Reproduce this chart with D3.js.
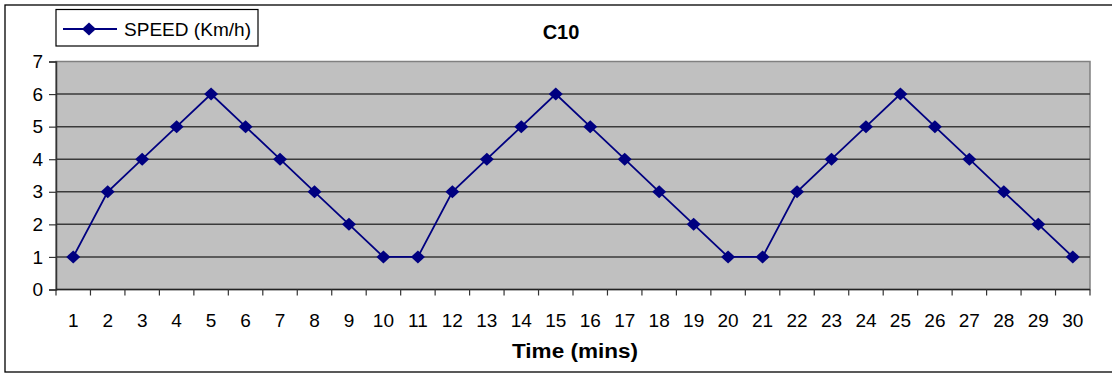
<!DOCTYPE html>
<html>
<head>
<meta charset="utf-8">
<script src="https://cdn.jsdelivr.net/npm/d3@7"></script>
<style>
  html, body { margin: 0; padding: 0; background: #fff; }
  svg { display: block; font-family: Arial, "Liberation Sans", sans-serif; }
</style>
</head>
<body>
<svg id="chart" width="1112" height="374"></svg>
<script>
// Speed readings per minute
const minutes = d3.range(1, 31).map(String);
const speed = [1, 3, 4, 5, 6, 5, 4, 3, 2, 1, 1, 3, 4, 5, 6, 5, 4, 3, 2, 1, 1, 3, 4, 5, 6, 5, 4, 3, 2, 1];
const yTicks = [0, 1, 2, 3, 4, 5, 6, 7];
const chartTitle = "C10";
const xTitle = "Time (mins)";
const seriesName = "SPEED (Km/h)";

const svg = d3.select("#chart");
const plot = { left: 56, right: 1090, top: 61.5, bottom: 289.5 };

// outer chart frame
svg.append("rect")
  .attr("x", 5).attr("y", 5).attr("width", 1115).attr("height", 367)
  .attr("fill", "#fff").attr("stroke", "#000").attr("stroke-width", 1.3);

const x = d3.scaleBand().domain(minutes).range([plot.left, plot.right]);
const y = d3.scaleLinear().domain([0, 7]).range([plot.bottom, plot.top]);

// plot background
svg.append("rect")
  .attr("x", plot.left).attr("y", plot.top)
  .attr("width", plot.right - plot.left).attr("height", plot.bottom - plot.top)
  .attr("fill", "#c0c0c0").attr("stroke", "#808080").attr("stroke-width", 1.5);

// horizontal gridlines
svg.append("g")
  .selectAll("line")
  .data(yTicks.filter(v => v > 0 && v < 7))
  .join("line")
  .attr("x1", plot.left).attr("x2", plot.right)
  .attr("y1", d => y(d)).attr("y2", d => y(d))
  .attr("stroke", "#3a3a3a").attr("stroke-width", 1.5);

// y axis
const yAxis = svg.append("g")
  .attr("transform", `translate(${plot.left},0)`)
  .call(d3.axisLeft(y).tickValues(yTicks).tickFormat(d3.format("d")).tickSize(7).tickPadding(6));
yAxis.select(".domain").attr("stroke", "#333").attr("stroke-width", 1.5);
yAxis.selectAll(".tick line").attr("stroke", "#333").attr("stroke-width", 1.2);
yAxis.selectAll("text").attr("font-size", 19).attr("fill", "#000")
  .attr("font-family", "Arial, 'Liberation Sans', sans-serif");

// x axis with ticks at category boundaries
const xAxisG = svg.append("g").attr("transform", `translate(0,${plot.bottom})`);
xAxisG.append("line")
  .attr("x1", plot.left).attr("x2", plot.right)
  .attr("stroke", "#222").attr("stroke-width", 1.5);
const boundaries = minutes.map(m => x(m)).concat([x(minutes[minutes.length - 1]) + x.bandwidth()]);
xAxisG.selectAll("line.tk")
  .data(boundaries)
  .join("line")
  .attr("class", "tk")
  .attr("x1", d => d).attr("x2", d => d)
  .attr("y1", 0).attr("y2", 6)
  .attr("stroke", "#333").attr("stroke-width", 1.2);
xAxisG.selectAll("text")
  .data(minutes)
  .join("text")
  .attr("x", d => x(d) + x.bandwidth() / 2)
  .attr("y", 37)
  .attr("text-anchor", "middle")
  .attr("font-size", 19)
  .text(d => d);

// series line and markers
const cx = (d, i) => x(minutes[i]) + x.bandwidth() / 2;
const line = d3.line().x(cx).y(d => y(d));
svg.append("path")
  .datum(speed)
  .attr("d", line)
  .attr("fill", "none")
  .attr("stroke", "#000080")
  .attr("stroke-width", 1.8);

const diamond = "M0,-6.5L7,0L0,6.5L-7,0Z";
svg.append("g")
  .selectAll("path")
  .data(speed)
  .join("path")
  .attr("transform", (d, i) => `translate(${cx(d, i)},${y(d)})`)
  .attr("d", diamond)
  .attr("fill", "#000080");

// titles
svg.append("text")
  .attr("x", 561).attr("y", 39)
  .attr("text-anchor", "middle")
  .attr("font-size", 20).attr("font-weight", "bold")
  .text(chartTitle);

svg.append("text")
  .attr("x", 575).attr("y", 357.5)
  .attr("text-anchor", "middle")
  .attr("font-size", 20).attr("font-weight", "bold")
  .attr("textLength", 126)
  .attr("lengthAdjust", "spacingAndGlyphs")
  .text(xTitle);

// legend
const legend = svg.append("g");
legend.append("rect")
  .attr("x", 56).attr("y", 9.5).attr("width", 202).attr("height", 36.5)
  .attr("fill", "#fff").attr("stroke", "#000").attr("stroke-width", 1.2);
legend.append("line")
  .attr("x1", 63).attr("x2", 117).attr("y1", 29).attr("y2", 29)
  .attr("stroke", "#000080").attr("stroke-width", 1.8);
legend.append("path")
  .attr("transform", "translate(89,29)")
  .attr("d", diamond)
  .attr("fill", "#000080");
legend.append("text")
  .attr("x", 124).attr("y", 35.5)
  .attr("font-size", 19)
  .attr("textLength", 127)
  .attr("lengthAdjust", "spacingAndGlyphs")
  .text(seriesName);
</script>
</body>
</html>
